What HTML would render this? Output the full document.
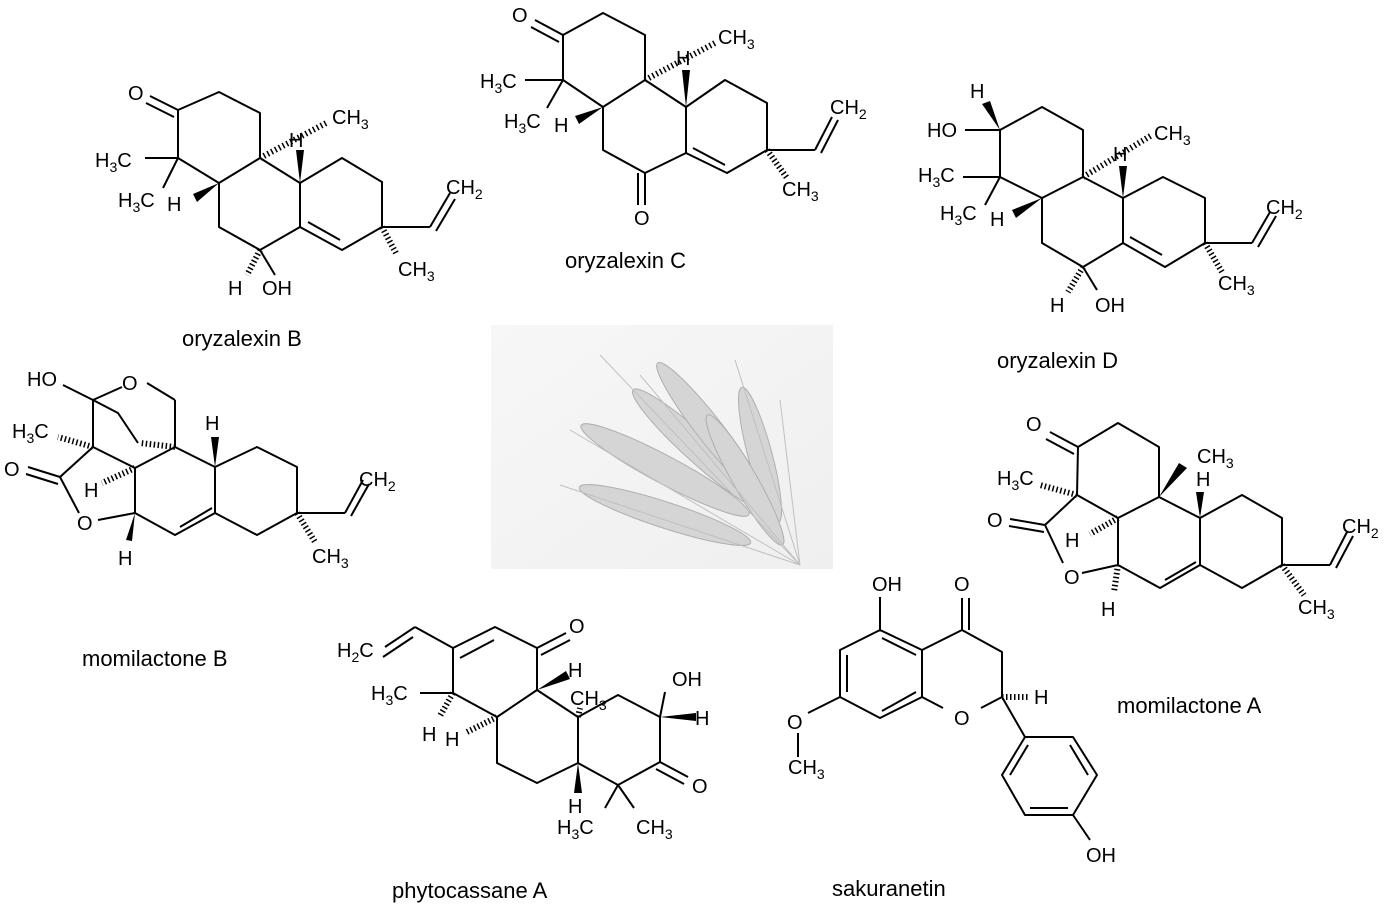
<!DOCTYPE html>
<html><head><meta charset="utf-8"><style>
html,body{margin:0;padding:0;background:#fff;}
svg{display:block;}
text{font-family:"Liberation Sans",Arial,sans-serif;font-size:20px;fill:#000;}
.n{font-size:22px;}
.s{font-size:14px;}
</style></head><body>
<svg width="1390" height="914" viewBox="0 0 1390 914" xmlns="http://www.w3.org/2000/svg">
<defs>
<linearGradient id="bg" x1="0" y1="0" x2="1" y2="1"><stop offset="0" stop-color="#f7f7f7"/><stop offset="1" stop-color="#efefef"/></linearGradient>
</defs>
<g stroke="#000" stroke-width="2" fill="none" stroke-linejoin="round">

<!-- ========== oryzalexin B ========== -->
<polyline points="178,110 219,92 260,113 260,158 219,183 178,158 178,110"/>
<line x1="178" y1="110" x2="150" y2="96"/><line x1="174" y1="117" x2="146" y2="103"/>
<polyline points="260,158 300,183 300,227 260,250 219,227 219,183"/>
<polyline points="300,183 342,158 382,182 382,227 342,250 300,227"/>
<line x1="308" y1="222" x2="340" y2="240"/>
<line x1="382" y1="227" x2="430" y2="227"/><line x1="430" y1="227" x2="450" y2="193"/><line x1="436" y1="231" x2="455" y2="199"/>
<line x1="178" y1="158" x2="145" y2="158"/><line x1="178" y1="158" x2="163" y2="188"/>
<line x1="382" y1="227" x2="397" y2="255" stroke-width="6" stroke-dasharray="1.5,2.5"/>
<line x1="260" y1="158" x2="328" y2="122" stroke-width="6" stroke-dasharray="1.5,2.8"/>
<line x1="260" y1="250" x2="247" y2="275" stroke-width="6" stroke-dasharray="1.5,2.5"/>
<line x1="260" y1="250" x2="275" y2="275"/>

<!-- ========== oryzalexin C ========== -->
<polyline points="563,35 603,13 645,35 645,80 603,107 563,80 563,35"/>
<line x1="563" y1="35" x2="535" y2="20"/><line x1="559" y1="42" x2="531" y2="27"/>
<polyline points="645,80 686,107 686,153 645,173 603,150 603,107"/>
<polyline points="686,107 725,80 767,103 767,150 727,173 686,153"/>
<line x1="693" y1="148" x2="725" y2="165"/>
<line x1="645" y1="173" x2="645" y2="205"/><line x1="638" y1="173" x2="638" y2="205"/>
<line x1="767" y1="150" x2="815" y2="150"/><line x1="815" y1="150" x2="832" y2="117"/><line x1="821" y1="153" x2="838" y2="120"/>
<line x1="563" y1="80" x2="525" y2="80"/><line x1="563" y1="80" x2="547" y2="108"/>
<line x1="767" y1="150" x2="787" y2="178" stroke-width="6" stroke-dasharray="1.5,2.5"/>
<line x1="645" y1="80" x2="715" y2="43" stroke-width="6" stroke-dasharray="1.5,2.8"/>

<!-- ========== oryzalexin D ========== -->
<polyline points="1000,130 1042,107 1083,130 1083,177 1042,198 1000,177 1000,130"/>
<polyline points="1083,177 1123,198 1123,243 1083,267 1042,243 1042,198"/>
<polyline points="1123,198 1163,177 1205,198 1205,243 1165,267 1123,243"/>
<line x1="1130" y1="237" x2="1162" y2="255"/>
<line x1="1205" y1="243" x2="1252" y2="243"/><line x1="1252" y1="243" x2="1270" y2="212"/><line x1="1258" y1="247" x2="1276" y2="216"/>
<line x1="1000" y1="130" x2="965" y2="130"/>
<line x1="1000" y1="177" x2="963" y2="177"/><line x1="1000" y1="177" x2="985" y2="205"/>
<line x1="1205" y1="243" x2="1222" y2="272" stroke-width="6" stroke-dasharray="1.5,2.5"/>
<line x1="1083" y1="177" x2="1152" y2="135" stroke-width="6" stroke-dasharray="1.5,2.8"/>
<line x1="1083" y1="267" x2="1068" y2="292" stroke-width="6" stroke-dasharray="1.5,2.5"/>
<line x1="1083" y1="267" x2="1097" y2="290"/>

<!-- ========== momilactone B ========== -->
<line x1="63" y1="385" x2="93" y2="400"/>
<line x1="93" y1="400" x2="122" y2="387"/>
<line x1="147" y1="383" x2="175" y2="400"/>
<line x1="175" y1="400" x2="175" y2="447"/>
<polyline points="93,400 118,413 138,443"/>
<line x1="175" y1="447" x2="140" y2="443" stroke-width="6" stroke-dasharray="1.5,2.5"/>
<line x1="93" y1="400" x2="93" y2="447"/>
<line x1="93" y1="447" x2="58" y2="437" stroke-width="6" stroke-dasharray="1.5,2.5"/>
<polyline points="93,447 135,468 175,447 215,467"/>
<line x1="93" y1="447" x2="60" y2="477"/>
<line x1="60" y1="477" x2="28" y2="467"/><line x1="58" y1="484" x2="26" y2="474"/>
<line x1="60" y1="477" x2="79" y2="513"/>
<line x1="98" y1="520" x2="135" y2="513"/>
<line x1="135" y1="513" x2="135" y2="468"/>
<line x1="135" y1="468" x2="102" y2="483" stroke-width="6" stroke-dasharray="1.5,2.5"/>
<polyline points="135,513 175,535 215,513 215,467"/>
<line x1="180" y1="527" x2="212" y2="508"/>
<polyline points="215,467 257,447 297,467 297,513 257,535 215,513"/>
<line x1="297" y1="513" x2="345" y2="513"/><line x1="345" y1="513" x2="363" y2="480"/><line x1="351" y1="516" x2="369" y2="484"/>
<line x1="297" y1="513" x2="315" y2="542" stroke-width="6" stroke-dasharray="1.5,2.5"/>

<!-- ========== momilactone A ========== -->
<polyline points="1078,447 1118,423 1159,447 1159,497 1118,518 1077,495 1078,447"/>
<line x1="1078" y1="447" x2="1050" y2="432"/><line x1="1074" y1="454" x2="1046" y2="439"/>
<polyline points="1159,497 1200,518 1200,565 1160,588 1118,565 1118,518"/>
<line x1="1165" y1="580" x2="1196" y2="562"/>
<polyline points="1200,518 1242,495 1282,518 1282,565 1242,588 1200,565"/>
<line x1="1282" y1="565" x2="1330" y2="565"/><line x1="1330" y1="565" x2="1347" y2="532"/><line x1="1336" y1="568" x2="1353" y2="536"/>
<line x1="1282" y1="565" x2="1304" y2="595" stroke-width="6" stroke-dasharray="1.5,2.5"/>
<line x1="1077" y1="495" x2="1045" y2="525"/>
<line x1="1045" y1="525" x2="1010" y2="519"/><line x1="1044" y1="532" x2="1009" y2="526"/>
<line x1="1045" y1="525" x2="1063" y2="563"/>
<line x1="1082" y1="573" x2="1118" y2="565"/>
<line x1="1077" y1="495" x2="1040" y2="485" stroke-width="6" stroke-dasharray="1.5,2.5"/>
<line x1="1118" y1="518" x2="1090" y2="534" stroke-width="6" stroke-dasharray="1.5,2.5"/>
<line x1="1118" y1="565" x2="1114" y2="592" stroke-width="6" stroke-dasharray="1.5,2.5"/>

<!-- ========== phytocassane A ========== -->
<line x1="385" y1="647" x2="415" y2="627"/><line x1="383" y1="657" x2="413" y2="637"/>
<line x1="415" y1="627" x2="453" y2="648"/>
<polyline points="453,648 495,627 537,648 537,690 497,717 453,693 453,648"/>
<line x1="460" y1="658" x2="494" y2="640"/>
<line x1="537" y1="648" x2="566" y2="633"/><line x1="541" y1="655" x2="570" y2="640"/>
<polyline points="537,690 578,717 578,763 537,783 497,763 497,717"/>
<polyline points="578,717 618,695 660,717 660,762 618,785 578,763"/>
<line x1="660" y1="762" x2="688" y2="777"/><line x1="656" y1="769" x2="684" y2="784"/>
<line x1="660" y1="717" x2="665" y2="692"/>
<line x1="453" y1="693" x2="420" y2="693"/>
<line x1="453" y1="693" x2="440" y2="716" stroke-width="6" stroke-dasharray="1.5,2.5"/>
<line x1="497" y1="717" x2="465" y2="733" stroke-width="6" stroke-dasharray="1.5,2.5"/>
<line x1="578" y1="717" x2="580" y2="708" stroke-width="6" stroke-dasharray="1.5,2.5"/>
<line x1="618" y1="785" x2="605" y2="808"/><line x1="618" y1="785" x2="634" y2="808"/>

<!-- ========== sakuranetin ========== -->
<polyline points="880,630 922,650 922,697 880,718 840,697 840,650 880,630"/>
<line x1="882" y1="638" x2="916" y2="655"/><line x1="847" y1="655" x2="847" y2="692"/><line x1="882" y1="711" x2="916" y2="692"/>
<line x1="880" y1="630" x2="880" y2="597"/>
<polyline points="922,650 962,630 1002,652 1002,697 981,708"/>
<line x1="943" y1="708" x2="922" y2="697"/>
<line x1="962" y1="630" x2="962" y2="598"/><line x1="969" y1="630" x2="969" y2="598"/>
<line x1="840" y1="697" x2="808" y2="713"/>
<line x1="798" y1="733" x2="798" y2="757"/>
<line x1="1002" y1="697" x2="1030" y2="697" stroke-width="6" stroke-dasharray="1.5,2.5"/>
<line x1="1002" y1="697" x2="1025" y2="737"/>
<polyline points="1025,737 1073,737 1097,775 1073,815 1025,815 1002,775 1025,737"/>
<line x1="1028" y1="745" x2="1010" y2="775"/><line x1="1070" y1="745" x2="1088" y2="775"/><line x1="1030" y1="808" x2="1068" y2="808"/>
<line x1="1073" y1="815" x2="1090" y2="840"/>
</g>

<!-- wedges -->
<g fill="#000" stroke="none">
<polygon points="300,183 296,150 304,150"/>
<polygon points="219,183 193,194 197,202"/>
<polygon points="686,107 682,70 690,70"/>
<polygon points="603,107 575,116 579,124"/>
<polygon points="1123,198 1119,166 1127,166"/>
<polygon points="1042,198 1012,210 1016,218"/>
<polygon points="1000,130 982,104 990,101"/>
<polygon points="215,467 211,437 219,437"/>
<polygon points="135,513 126,540 132,541"/>
<polygon points="1159,497 1179,463 1187,468"/>
<polygon points="1200,518 1196,492 1204,492"/>
<polygon points="537,690 566,671 570,679"/>
<polygon points="660,717 696,713 696,721"/>
<polygon points="578,763 574,793 582,793"/>
</g>

<!-- labels -->
<g>
<text x="128" y="100">O</text>
<text x="95" y="167">H<tspan class="s" dy="5">3</tspan><tspan dy="-5">C</tspan></text>
<text x="118" y="207">H<tspan class="s" dy="5">3</tspan><tspan dy="-5">C</tspan></text>
<text x="167" y="211">H</text>
<text x="289" y="147">H</text>
<text x="332" y="124">CH<tspan class="s" dy="5">3</tspan></text>
<text x="446" y="194">CH<tspan class="s" dy="5">2</tspan></text>
<text x="398" y="276">CH<tspan class="s" dy="5">3</tspan></text>
<text x="228" y="295">H</text>
<text x="262" y="295">OH</text>
<text class="n" x="182" y="346">oryzalexin B</text>

<text x="512" y="22">O</text>
<text x="480" y="88">H<tspan class="s" dy="5">3</tspan><tspan dy="-5">C</tspan></text>
<text x="504" y="128">H<tspan class="s" dy="5">3</tspan><tspan dy="-5">C</tspan></text>
<text x="554" y="132">H</text>
<text x="676" y="65">H</text>
<text x="718" y="44">CH<tspan class="s" dy="5">3</tspan></text>
<text x="830" y="114">CH<tspan class="s" dy="5">2</tspan></text>
<text x="782" y="196">CH<tspan class="s" dy="5">3</tspan></text>
<text x="634" y="225">O</text>
<text class="n" x="565" y="268">oryzalexin C</text>

<text x="970" y="98">H</text>
<text x="927" y="137">HO</text>
<text x="918" y="182">H<tspan class="s" dy="5">3</tspan><tspan dy="-5">C</tspan></text>
<text x="940" y="220">H<tspan class="s" dy="5">3</tspan><tspan dy="-5">C</tspan></text>
<text x="990" y="226">H</text>
<text x="1113" y="161">H</text>
<text x="1154" y="140">CH<tspan class="s" dy="5">3</tspan></text>
<text x="1266" y="214">CH<tspan class="s" dy="5">2</tspan></text>
<text x="1218" y="290">CH<tspan class="s" dy="5">3</tspan></text>
<text x="1050" y="312">H</text>
<text x="1095" y="312">OH</text>
<text class="n" x="997" y="368">oryzalexin D</text>

<text x="27" y="386">HO</text>
<text x="122" y="390">O</text>
<text x="12" y="438">H<tspan class="s" dy="5">3</tspan><tspan dy="-5">C</tspan></text>
<text x="4" y="476">O</text>
<text x="84" y="497">H</text>
<text x="77" y="530">O</text>
<text x="118" y="565">H</text>
<text x="205" y="430">H</text>
<text x="359" y="486">CH<tspan class="s" dy="5">2</tspan></text>
<text x="312" y="563">CH<tspan class="s" dy="5">3</tspan></text>
<text class="n" x="82" y="666">momilactone B</text>

<text x="1026" y="431">O</text>
<text x="1197" y="463">CH<tspan class="s" dy="5">3</tspan></text>
<text x="997" y="485">H<tspan class="s" dy="5">3</tspan><tspan dy="-5">C</tspan></text>
<text x="1196" y="486">H</text>
<text x="987" y="527">O</text>
<text x="1065" y="547">H</text>
<text x="1064" y="584">O</text>
<text x="1101" y="616">H</text>
<text x="1342" y="533">CH<tspan class="s" dy="5">2</tspan></text>
<text x="1298" y="614">CH<tspan class="s" dy="5">3</tspan></text>
<text class="n" x="1117" y="713">momilactone A</text>

<text x="337" y="657">H<tspan class="s" dy="5">2</tspan><tspan dy="-5">C</tspan></text>
<text x="569" y="633">O</text>
<text x="371" y="700">H<tspan class="s" dy="5">3</tspan><tspan dy="-5">C</tspan></text>
<text x="568" y="677">H</text>
<text x="570" y="705">CH<tspan class="s" dy="5">3</tspan></text>
<text x="672" y="686">OH</text>
<text x="695" y="725">H</text>
<text x="422" y="741">H</text>
<text x="445" y="746">H</text>
<text x="692" y="793">O</text>
<text x="568" y="813">H</text>
<text x="557" y="834">H<tspan class="s" dy="5">3</tspan><tspan dy="-5">C</tspan></text>
<text x="636" y="834">CH<tspan class="s" dy="5">3</tspan></text>
<text class="n" x="392" y="898">phytocassane A</text>

<text x="872" y="591">OH</text>
<text x="954" y="591">O</text>
<text x="1034" y="704">H</text>
<text x="954" y="725">O</text>
<text x="787" y="729">O</text>
<text x="788" y="774">CH<tspan class="s" dy="5">3</tspan></text>
<text x="1086" y="862">OH</text>
<text class="n" x="832" y="896">sakuranetin</text>
</g>

<!-- wheat image -->
<rect x="491" y="325" width="342" height="244" fill="url(#bg)"/>
<g opacity="0.9">
<g fill="#d2d2d2" stroke="#a8a8a8" stroke-width="1">
<ellipse cx="665" cy="515" rx="90" ry="13" transform="rotate(18 665 515)"/>
<ellipse cx="665" cy="470" rx="95" ry="14" transform="rotate(28 665 470)"/>
<ellipse cx="700" cy="450" rx="90" ry="14" transform="rotate(42 700 450)"/>
<ellipse cx="710" cy="430" rx="85" ry="13" transform="rotate(52 710 430)"/>
<ellipse cx="760" cy="455" rx="70" ry="12" transform="rotate(75 760 455)"/>
<ellipse cx="745" cy="480" rx="75" ry="12" transform="rotate(60 745 480)"/>
</g>
<g stroke="#bbb" stroke-width="1">
<line x1="800" y1="565" x2="560" y2="485"/><line x1="800" y1="565" x2="570" y2="430"/>
<line x1="800" y1="565" x2="600" y2="355"/><line x1="800" y1="565" x2="640" y2="375"/>
<line x1="800" y1="565" x2="735" y2="360"/><line x1="800" y1="565" x2="780" y2="400"/>
</g>
</g>
</svg>
</body></html>
